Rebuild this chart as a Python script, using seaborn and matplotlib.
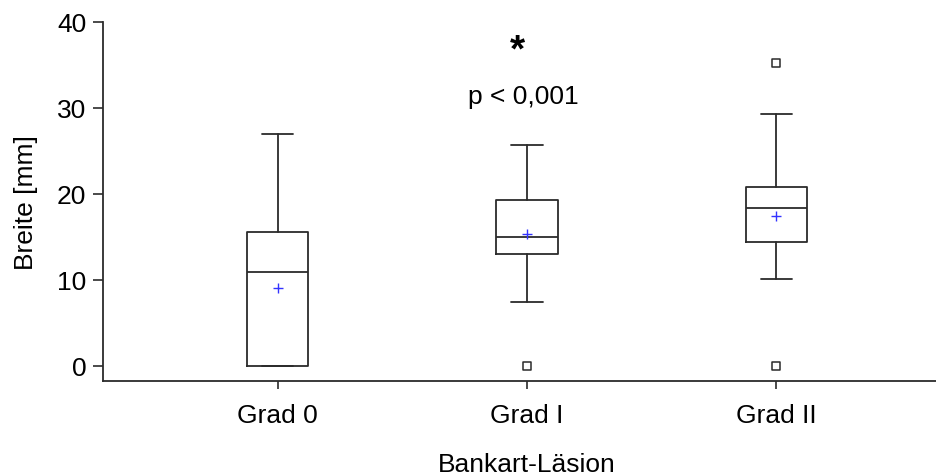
import matplotlib
matplotlib.use("Agg")
import matplotlib.pyplot as plt
import seaborn as sns
import pandas as pd

# Five-number summaries of width per Bankart lesion grade
groups = ["Grad 0", "Grad I", "Grad II"]
whisker_low = [0.0, 7.35, 10.05]
q1 = [0.0, 13.0, 14.35]
median = [10.85, 14.9, 18.3]
q3 = [15.55, 19.2, 20.8]
whisker_high = [26.9, 25.7, 29.25]
means = [9.0, 15.3, 17.4]

# Outliers (group index, value)
outlier_group = [1, 2, 2]
outlier_value = [0.0, 0.0, 35.15]

y_ticks = [0, 10, 20, 30, 40]
x_title = "Bankart-Läsion"
y_title = "Breite [mm]"
sig_mark = "*"
p_label = "p < 0,001"

sns.set_theme(style="ticks")
plt.rcParams["font.family"] = ["Liberation Sans", "DejaVu Sans"]
plt.rcParams["text.color"] = "black"
plt.rcParams["axes.labelcolor"] = "black"

line_col = "#2b2b2b"
fs = 19

fig = plt.figure(figsize=(9.36, 4.77), dpi=100)
ax = fig.add_axes([103 / 936, 1 - 382 / 477, 848 / 936, (382 - 22.7) / 477])

stats = []
for i, g in enumerate(groups):
    stats.append(dict(label=g, whislo=whisker_low[i], q1=q1[i], med=median[i],
                      q3=q3[i], whishi=whisker_high[i], fliers=[]))

lp = dict(color=line_col, linewidth=1.3)
ax.bxp(stats, positions=range(len(groups)), widths=0.246, capwidths=0.125,
       showfliers=False, patch_artist=False,
       boxprops=lp, whiskerprops=lp, capprops=lp, medianprops=lp)

mean_df = pd.DataFrame({"pos": range(len(groups)), "mean": means})
sns.scatterplot(data=mean_df, x="pos", y="mean", marker="+", s=60,
                color="#3333ff", linewidth=1.0, ax=ax, zorder=5)

out_df = pd.DataFrame({"pos": outlier_group, "val": outlier_value})
sns.scatterplot(data=out_df, x="pos", y="val", marker="s", s=38,
                facecolor="white", edgecolor=line_col, linewidth=1.1,
                ax=ax, zorder=5)

ax.set_xlim(-0.7, 2.7)
ax.set_ylim(-1.8, 40)
ax.set_xticks(range(len(groups)))
ax.set_xticklabels(groups)
ax.set_yticks(y_ticks)

ax.set_xlabel(x_title, fontsize=fs, labelpad=18)
ax.set_ylabel(y_title, fontsize=fs, labelpad=14)
ax.tick_params(axis="both", labelsize=fs, colors=line_col, labelcolor="black",
               width=1.2)
ax.tick_params(axis="y", length=7, pad=5)
ax.tick_params(axis="x", length=6, pad=10)

for side in ["top", "right"]:
    ax.spines[side].set_visible(False)
for side in ["left", "bottom"]:
    ax.spines[side].set_color(line_col)
    ax.spines[side].set_linewidth(1.3)

ax.text(0.96, 36.6, sig_mark, fontsize=28, fontweight="bold",
        ha="center", va="center")
ax.text(0.985, 31.4, p_label, fontsize=fs, ha="center", va="center")

fig.savefig("out.png", dpi=100)
